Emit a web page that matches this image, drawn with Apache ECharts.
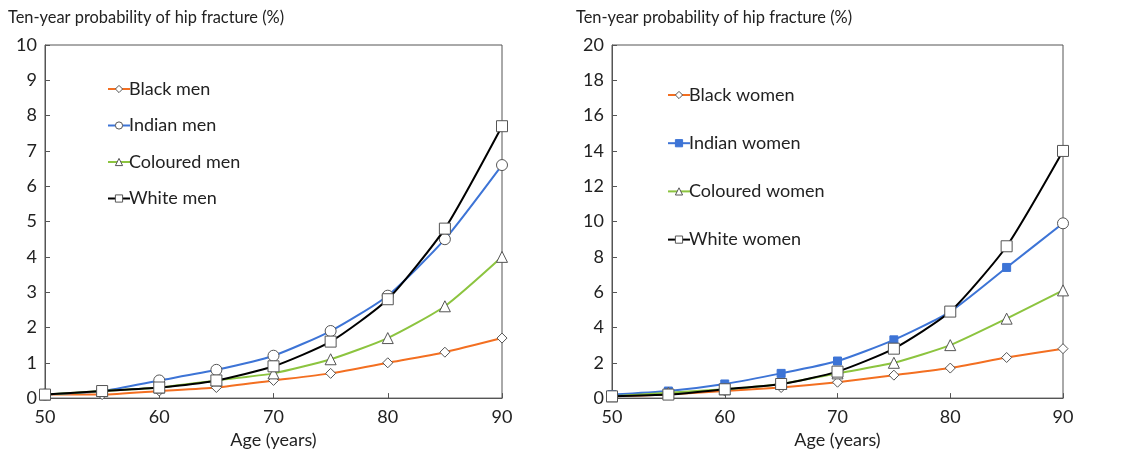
<!DOCTYPE html>
<html><head><meta charset="utf-8">
<script src="https://cdn.jsdelivr.net/npm/echarts@6/dist/echarts.min.js"></script>
<style>html,body{margin:0;padding:0;background:#fff}#c{width:1137px;height:454px}</style>
</head><body><div id="c"></div>
<script>
const ages = [50, 55, 60, 65, 70, 75, 80, 85, 90];
const menBlack    = [0.1, 0.1, 0.2, 0.3, 0.5, 0.7, 1.0, 1.3, 1.7];
const menIndian   = [0.1, 0.2, 0.5, 0.8, 1.2, 1.9, 2.9, 4.5, 6.6];
const menColoured = [0.1, 0.2, 0.3, 0.5, 0.7, 1.1, 1.7, 2.6, 4.0];
const menWhite    = [0.1, 0.2, 0.3, 0.5, 0.9, 1.6, 2.8, 4.8, 7.7];
const womenBlack    = [0.1, 0.2, 0.4, 0.6, 0.9, 1.3, 1.7, 2.3, 2.8];
const womenIndian   = [0.2, 0.4, 0.8, 1.4, 2.1, 3.3, 4.9, 7.4, 9.9];
const womenColoured = [0.1, 0.3, 0.5, 0.8, 1.4, 2.0, 3.0, 4.5, 6.1];
const womenWhite    = [0.1, 0.2, 0.5, 0.8, 1.5, 2.8, 4.9, 8.6, 14.0];
const menNames = ['Black men', 'Indian men', 'Coloured men', 'White men'];
const womenNames = ['Black women', 'Indian women', 'Coloured women', 'White women'];
const yTitle = 'Ten-year probability of hip fracture (%)';
const xTitle = 'Age (years)';

const FONT = 'Lato, "Open Sans", sans-serif';
const colors = ['#f36f21', '#3d74d6', '#8cc43f', '#000000'];
const symbols = ['diamond', 'circle', 'triangle', 'rect'];
const sizes = [10, 11, 11, 11];
const edge = '#555';

function pairs(vals) { return ages.map((a, i) => [a, vals[i]]); }

function mk(name, vals, k, gi, opts) {
  return Object.assign({
    name: name, type: 'line', xAxisIndex: gi, yAxisIndex: gi,
    data: pairs(vals), smooth: 0.2, clip: false,
    symbol: symbols[k], symbolSize: sizes[k], showAllSymbol: true,
    lineStyle: { color: colors[k], width: 2 },
    itemStyle: { color: '#fff', borderColor: edge, borderWidth: 1 },
    z: 2 + k
  }, opts || {});
}

const indianW = pairs(womenIndian).map((p, i) => i === ages.length - 1
  ? { value: p, symbol: 'circle', symbolSize: 11, itemStyle: { color: '#fff', borderColor: edge, borderWidth: 1 } }
  : { value: p });

const series = [
  mk(menNames[0], menBlack, 0, 0),
  mk(menNames[1], menIndian, 1, 0),
  mk(menNames[2], menColoured, 2, 0),
  mk(menNames[3], menWhite, 3, 0),
  mk(womenNames[0], womenBlack, 0, 1),
  Object.assign(mk(womenNames[1], womenIndian, 1, 1), {
    data: indianW, symbol: 'rect', symbolSize: 8,
    itemStyle: { color: colors[1], borderColor: colors[1], borderWidth: 1 }
  }),
  mk(womenNames[2], womenColoured, 2, 1),
  mk(womenNames[3], womenWhite, 3, 1)
];

function xAx(gi) {
  return {
    type: 'value', gridIndex: gi, min: 50, max: 90, interval: 10,
    name: xTitle, nameLocation: 'middle', nameGap: 32,
    nameTextStyle: { fontFamily: FONT, fontSize: 18, color: '#222' },
    axisLine: { show: true, lineStyle: { color: edge, width: 1 } },
    axisTick: { show: true, inside: true, length: 5, lineStyle: { color: edge } },
    axisLabel: { fontFamily: FONT, fontSize: 18, color: '#222', margin: 10 },
    splitLine: { show: false }
  };
}
function yAx(gi, max, interval) {
  return {
    type: 'value', gridIndex: gi, min: 0, max: max, interval: interval,
    axisLine: { show: true, lineStyle: { color: edge, width: 1 } },
    axisTick: { show: true, inside: true, length: 5, lineStyle: { color: edge } },
    axisLabel: { fontFamily: FONT, fontSize: 18, color: '#222', margin: 8 },
    splitLine: { show: false }
  };
}

const chart = echarts.init(document.getElementById('c'), null, { renderer: 'canvas' });
chart.setOption({
  animation: false,
  backgroundColor: '#fff',
  title: [
    { text: yTitle, left: 3, top: 5, textStyle: { fontFamily: FONT, fontSize: 16.4, fontWeight: 'normal', color: '#222' } },
    { text: yTitle, left: 571, top: 5, textStyle: { fontFamily: FONT, fontSize: 16.4, fontWeight: 'normal', color: '#222' } }
  ],
  grid: [
    { left: 45, right: 635, top: 45, bottom: 52, show: true, borderColor: edge, borderWidth: 1, backgroundColor: 'transparent' },
    { left: 612, right: 74, top: 45, bottom: 51, show: true, borderColor: edge, borderWidth: 1, backgroundColor: 'transparent' }
  ],
  xAxis: [xAx(0), xAx(1)],
  yAxis: [yAx(0, 10, 1), yAx(1, 20, 2)],
  legend: [
    { data: menNames, orient: 'vertical', left: 102, top: 75, itemWidth: 22, itemHeight: 9, itemGap: 18.5,
      itemStyle: { borderWidth: 1 },
      textStyle: { fontFamily: FONT, fontSize: 18, color: '#222', padding: [0, 0, 0, -6] } },
    { data: womenNames, orient: 'vertical', left: 662, top: 81, itemWidth: 22, itemHeight: 9, itemGap: 30.2,
      itemStyle: { borderWidth: 1 },
      textStyle: { fontFamily: FONT, fontSize: 18, color: '#222', padding: [0, 0, 0, -6] } }
  ],
  series: series
});
</script></body></html>
